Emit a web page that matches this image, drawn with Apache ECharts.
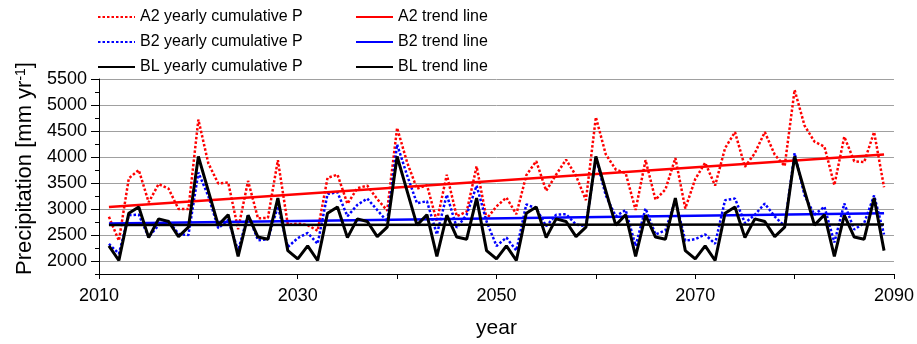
<!DOCTYPE html>
<html>
<head>
<meta charset="utf-8">
<script src="https://cdn.jsdelivr.net/npm/echarts@6.0.0/dist/echarts.min.js"></script>
<style>
  html, body { margin: 0; padding: 0; background: #fff; }
  #chart { width: 917px; height: 344px; }
</style>
</head>
<body>
<div id="chart"></div>
<script>
// yearly cumulative precipitation, 2011 - 2089
var years = [];
for (var y = 2011; y <= 2089; y++) years.push(y);

var a2Values = [
  2850, 2390, 3590, 3750, 3130, 3480, 3390, 3000, 3000, 4720,
  3880, 3490, 3510, 2610, 3540, 2820, 2830, 3940, 2700, 2720,
  2690, 2580, 3600, 3660, 3100, 3400, 3450, 3190, 2970, 4560,
  3900, 3390, 3460, 2760, 3660, 2860, 2950, 3820, 2810, 3050,
  3220, 2900, 3650, 3920, 3350, 3660, 3950, 3640, 3170, 4765,
  4050, 3760, 3690, 2980, 3940, 3180, 3375, 3980, 3010, 3575,
  3890, 3450, 4170, 4480, 3810, 4075, 4480, 4045, 3825, 5290,
  4605, 4295, 4200, 3460, 4390, 3920, 3900, 4480, 3420
];
var b2Values = [
  2330, 2140, 2880, 2890, 2460, 2690, 2770, 2520, 2500, 3700,
  3250, 2630, 2790, 2200, 2890, 2400, 2420, 3050, 2270, 2440,
  2540, 2330, 3290, 3320, 2860, 3080, 3200, 2980, 2760, 4240,
  3650, 3110, 3150, 2510, 3275, 2640, 2890, 3450, 2760, 2290,
  2450, 2200, 3090, 3010, 2670, 2890, 2900, 2700, 2670, 3980,
  3260, 2860, 2980, 2290, 3010, 2510, 2590, 3170, 2390, 2420,
  2510, 2330, 3170, 3200, 2730, 2890, 3105, 2855, 2670, 4075,
  3260, 2890, 3045, 2355, 3105, 2605, 2730, 3260, 2510
];
var blValues = [
  2290, 2010, 2920, 3040, 2450, 2810, 2760, 2470, 2650, 4010,
  3350, 2690, 2890, 2090, 2880, 2460, 2420, 3210, 2200, 2040,
  2290, 2010, 2920, 3040, 2450, 2810, 2760, 2470, 2650, 4010,
  3350, 2690, 2890, 2090, 2880, 2460, 2420, 3210, 2200, 2040,
  2290, 2010, 2920, 3040, 2450, 2810, 2760, 2470, 2650, 4010,
  3350, 2690, 2890, 2090, 2880, 2460, 2420, 3210, 2200, 2040,
  2290, 2010, 2920, 3040, 2450, 2810, 2760, 2470, 2650, 4010,
  3350, 2690, 2890, 2090, 2880, 2460, 2420, 3210, 2200
];

// trend lines: [start, end] values read at 2011 and 2089
var trendYears = [2011, 2089];
var a2Trend = [3040, 4050];
var b2Trend = [2720, 2920];
var blTrend = [2690, 2700];

var yTicks = [2000, 2500, 3000, 3500, 4000, 4500, 5000, 5500];

function pairs(xs, vs) {
  return xs.map(function (x, i) { return [x, vs[i]]; });
}

var font = 'Liberation Sans, Arial, sans-serif';
var chart = echarts.init(document.getElementById('chart'));

// legend: line only, no symbol
var legendBase = {
  orient: 'vertical',
  top: 9,
  padding: 0,
  itemWidth: 37,
  itemHeight: 14,
  itemGap: 9,
  itemStyle: { color: 'rgba(0,0,0,0)', borderColor: 'rgba(0,0,0,0)', borderWidth: 0 },
  textStyle: { fontSize: 16, fontFamily: font, color: '#000' }
};

var option = {
  animation: false,
  backgroundColor: '#fff',
  textStyle: { fontFamily: font, color: '#000' },
  grid: { left: 99, right: 23, top: 79, bottom: 66 },
  legend: [
    Object.assign({}, legendBase, {
      left: 97,
      data: ['A2 yearly cumulative P', 'B2 yearly cumulative P', 'BL yearly cumulative P']
    }),
    Object.assign({}, legendBase, {
      left: 355,
      data: ['A2 trend line', 'B2 trend line', 'BL trend line']
    })
  ],
  xAxis: {
    type: 'value',
    min: 2010,
    max: 2090,
    interval: 10,
    name: 'year',
    nameLocation: 'middle',
    nameGap: 44,
    nameTextStyle: { fontSize: 21, fontFamily: font, color: '#000' },
    axisLine: { lineStyle: { color: '#000', width: 1 } },
    axisTick: { length: 5, lineStyle: { color: '#000' } },
    axisLabel: {
      fontSize: 18,
      color: '#000',
      margin: 13,
      formatter: function (v) { return (v - 2010) % 20 === 0 ? String(v) : ''; }
    },
    splitLine: { show: false }
  },
  yAxis: [{
    type: 'value',
    position: 'left',
    min: 1750,
    max: 5500,
    interval: 250,
    name: 'Precipitation [mm yr{s|-1}]',
    nameLocation: 'middle',
    nameGap: 63,
    nameTextStyle: {
      fontSize: 22, fontFamily: font, color: '#000',
      padding: [0, 0, 0, 16],
      rich: { s: { fontSize: 14, fontFamily: font, color: '#000', verticalAlign: 'top' } }
    },
    axisLine: { show: true, lineStyle: { color: '#000', width: 1 } },
    axisTick: { show: true, length: 4, lineStyle: { color: '#000' } },
    axisLabel: {
      fontSize: 18,
      color: '#000',
      margin: 12,
      formatter: function (v) { return yTicks.indexOf(v) >= 0 ? String(v) : ''; }
    },
    splitLine: {
      show: true,
      lineStyle: { color: ['rgba(0,0,0,0)', '#a0a0a0'], width: 1 }
    }
  }, {
    type: 'value',
    position: 'left',
    offset: 0,
    min: 1750,
    max: 5500,
    axisLine: { show: false },
    axisTick: { show: true, length: 8, customValues: yTicks, lineStyle: { color: '#000' } },
    axisLabel: { show: false },
    splitLine: { show: false }
  }],
  series: [{
    name: 'A2 yearly cumulative P',
    type: 'line',
    symbol: 'none',
    lineStyle: { color: '#ff0000', width: 2.5, type: [2.5, 2] },
    itemStyle: { color: '#ff0000' },
    data: pairs(years, a2Values)
  }, {
    name: 'B2 yearly cumulative P',
    type: 'line',
    symbol: 'none',
    lineStyle: { color: '#0000ff', width: 2.5, type: [2.5, 2] },
    itemStyle: { color: '#0000ff' },
    data: pairs(years, b2Values)
  }, {
    name: 'A2 trend line',
    type: 'line',
    symbol: 'none',
    lineStyle: { color: '#ff0000', width: 2.5 },
    itemStyle: { color: '#ff0000' },
    data: pairs(trendYears, a2Trend)
  }, {
    name: 'B2 trend line',
    type: 'line',
    symbol: 'none',
    lineStyle: { color: '#0000ff', width: 2.5 },
    itemStyle: { color: '#0000ff' },
    data: pairs(trendYears, b2Trend)
  }, {
    name: 'BL trend line',
    type: 'line',
    symbol: 'none',
    lineStyle: { color: '#000', width: 2.5 },
    itemStyle: { color: '#000' },
    data: pairs(trendYears, blTrend)
  }, {
    name: 'BL yearly cumulative P',
    type: 'line',
    symbol: 'none',
    lineStyle: { color: '#000', width: 3 },
    itemStyle: { color: '#000' },
    data: pairs(years, blValues)
  }]
};

chart.setOption(option);
</script>
</body>
</html>
